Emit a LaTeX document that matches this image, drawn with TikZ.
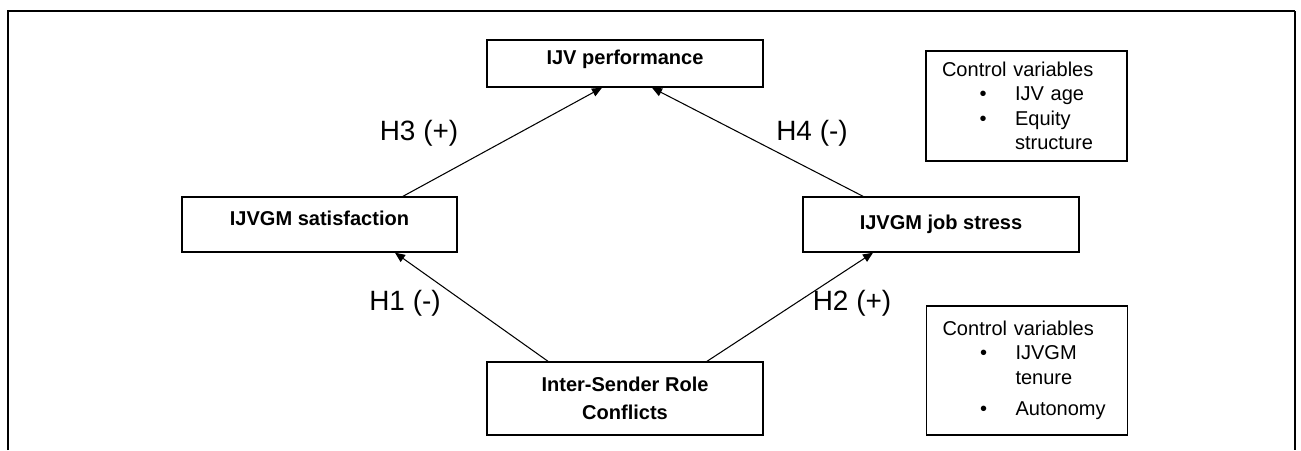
\documentclass[tikz,border=0pt]{standalone}
\usepackage{fontspec}
\setmainfont{Liberation Sans}
\usetikzlibrary{arrows.meta}
\newcommand{\cvitem}[1]{\hspace*{0.75cm}\textbullet\hspace*{0.57cm}#1}
\newcommand{\cvcont}[1]{\hspace*{1.46cm}#1}
\tikzset{
  vbox/.style={rectangle, draw, thick,
               font=\fontsize{11.4}{15.9}\selectfont\bfseries, align=center,
               minimum width=5.52cm, inner sep=2pt},
  cbox/.style={rectangle, draw, thick,
               font=\fontsize{11.4}{13.9}\selectfont, align=left,
               text width=3.38cm, inner xsep=0.32cm},
  arr/.style={-{Triangle[length=0.2cm,width=0.17cm]}, semithick},
  hyp/.style={font=\fontsize{15.9}{19}\selectfont},
}

\begin{document}
\begin{tikzpicture}[x=0.02cm, y=-0.02cm]
  \useasboundingbox (0,0) rectangle (1301,450);

  % -- Frame -----------------------------------------------------------------
  \draw[line width=1.6pt] (8,450) -- (8,11) -- (1295,11);
  \draw[thick] (1295,11) -- (1295,450);

  % -- Nodes -----------------------------------------------------------------
  \node[vbox, minimum height=0.94cm, text height=0.3cm, text depth=0.26cm]
       at (625,63.5)   (perf)   {IJV performance};
  \node[vbox, minimum width=5.5cm, minimum height=1.1cm,
        text height=0.3cm, text depth=0.26cm]
       at (319.5,224.5) (sat)   {IJVGM satisfaction};
  \node[vbox, minimum height=1.1cm]
       at (941,224.5)  (stress) {IJVGM job stress};
  \node[vbox, minimum height=1.46cm]
       at (625,398.5)  (isrc)   {Inter-Sender Role\\Conflicts};

  \node[cbox, minimum height=2.2cm]  at (1026.5,106) (ctrlA)
       {Control variables\\\cvitem{IJV age}\\\cvitem{Equity}\\\cvcont{structure}};
  \node[cbox, minimum height=2.58cm] at (1027,370.5) (ctrlB)
       {Control variables\\\cvitem{IJVGM}\\\cvcont{tenure}\\[4pt]\cvitem{Autonomy}};

  % -- Arrows ----------------------------------------------------------------
  \draw[arr] ([xshift=1.67cm]sat.north)    -- ([xshift=-0.46cm]perf.south);
  \draw[arr] ([xshift=-1.56cm]stress.north) -- ([xshift=0.54cm]perf.south);
  \draw[arr] ([xshift=-1.54cm]isrc.north)  -- ([xshift=1.51cm]sat.south);
  \draw[arr] ([xshift=1.64cm]isrc.north)   -- ([xshift=-1.36cm]stress.south);

  % -- Hypothesis labels -----------------------------------------------------
  \node[hyp] at (419,133) (h3) {H3 (+)};
  \node[hyp] at (812,133) (h4) {H4 (-)};
  \node[hyp] at (405,303) (h1) {H1 (-)};
  \node[hyp] at (852,303) (h2) {H2 (+)};
\end{tikzpicture}
\end{document}
